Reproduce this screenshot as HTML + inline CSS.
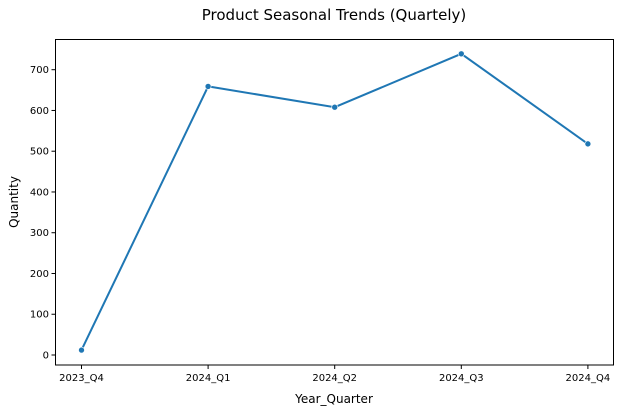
<!DOCTYPE html>
<html><head><meta charset="utf-8"><style>
body{margin:0;background:#fff;}
text{font-family:"DejaVu Sans","Liberation Sans",sans-serif;fill:#000;}
</style></head><body>
<svg id="chart" width="620" height="412" xmlns="http://www.w3.org/2000/svg">
<text x="334" y="20" text-anchor="middle" font-size="15">Product Seasonal Trends (Quartely)</text>
<rect x="55.5" y="39.5" width="558" height="325.5" fill="none" stroke="#000" stroke-width="1"/>
<g id="yt"></g>
<g id="xt"></g>
<g id="series"></g>
<text x="334" y="403" text-anchor="middle" font-size="12">Year_Quarter</text>
<text transform="translate(18,202) rotate(-90)" text-anchor="middle" font-size="12">Quantity</text>
</svg>
<script>
const categories=["2023_Q4","2024_Q1","2024_Q2","2024_Q3","2024_Q4"];
const quantities=[12,659,608,739,518];
const yTicks=[0,100,200,300,400,500,600,700];
const NS="http://www.w3.org/2000/svg";
function y(v){return 355-v*(285.3/700);}
function x(i){return 81.5+i*126.6;}
function mk(t,a,p){const e=document.createElementNS(NS,t);for(const k in a)e.setAttribute(k,a[k]);p.appendChild(e);return e;}
const yt=document.getElementById('yt'),xt=document.getElementById('xt'),s=document.getElementById('series');
yTicks.forEach(v=>{
 const l=mk('line',{x1:51.5,x2:55.5,y1:y(v),y2:y(v),stroke:'#000'},yt);
 
 
 const t=mk('text',{x:49,y:y(v)+3.5,'text-anchor':'end','font-size':'10'},yt);
 
 
 t.textContent=v;
});
categories.forEach((c,i)=>{
 const l=mk('line',{x1:x(i),x2:x(i),y1:365,y2:369,stroke:'#000'},xt);
 
 
 const t=mk('text',{x:x(i),y:381,'text-anchor':'middle','font-size':'10'},xt);
 
 
 t.textContent=c;
});
const pl=mk('polyline',{points:quantities.map((v,i)=>x(i)+','+y(v)).join(' '),fill:'none',stroke:'#1f77b4','stroke-width':2},s);


quantities.forEach((v,i)=>{
 const c=mk('circle',{cx:x(i),cy:y(v),r:3,fill:'#1f77b4',stroke:'#fff','stroke-width':0.6},s);
 
 
});
</script>
</body></html>
